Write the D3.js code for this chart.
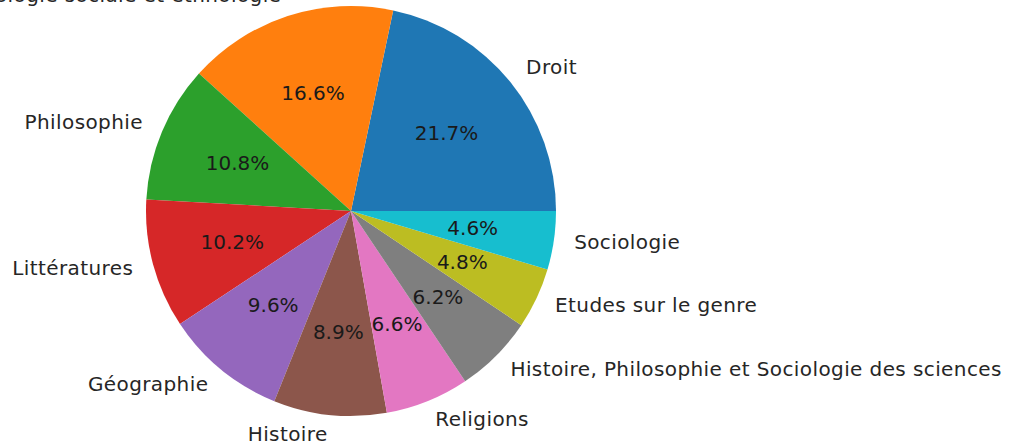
<!DOCTYPE html>
<html>
<head>
<meta charset="utf-8">
<script src="https://cdn.jsdelivr.net/npm/d3@7"></script>
<style>
  html, body { margin: 0; padding: 0; background: #fff; }
  svg { display: block; }
  text { font-family: "DejaVu Sans", sans-serif; }
</style>
</head>
<body>
<svg id="chart" width="1011" height="446"></svg>
<script>
const categories = [
  "Droit",
  "Anthropologie sociale et ethnologie",
  "Philosophie",
  "Littératures",
  "Géographie",
  "Histoire",
  "Religions",
  "Histoire, Philosophie et Sociologie des sciences",
  "Etudes sur le genre",
  "Sociologie"
];
const values = [21.7, 16.6, 10.8, 10.2, 9.6, 8.9, 6.6, 6.2, 4.8, 4.6];
const colors = ["#1f77b4", "#ff7f0e", "#2ca02c", "#d62728", "#9467bd",
                "#8c564b", "#e377c2", "#7f7f7f", "#bcbd22", "#17becf"];

const W = 1011, H = 446;
const cx = 351, cy = 211, R = 205;

const svg = d3.select("#chart");
svg.append("rect").attr("width", W).attr("height", H).attr("fill", "#fff");

const data = categories.map((c, i) => ({ name: c, value: values[i], color: colors[i] }));
const total = d3.sum(values);

// matplotlib: start at 3 o'clock, counterclockwise
const pie = d3.pie().value(d => d.value).sort(null)
  .startAngle(Math.PI / 2).endAngle(Math.PI / 2 - 2 * Math.PI);
const arcs = pie(data);

const g = svg.append("g").attr("transform", `translate(${cx},${cy})`);

const arc = d3.arc().innerRadius(0).outerRadius(R);
g.selectAll("path.slice").data(arcs).join("path")
  .attr("class", "slice")
  .attr("d", arc)
  .attr("fill", d => d.data.color);

const labelArc = d3.arc().innerRadius(R * 1.1).outerRadius(R * 1.1);
const pctArc = d3.arc().innerRadius(R * 0.6).outerRadius(R * 0.6);

g.selectAll("text.label").data(arcs).join("text")
  .attr("class", "label")
  .attr("x", d => labelArc.centroid(d)[0])
  .attr("y", d => labelArc.centroid(d)[1])
  .attr("dy", "0.27em")
  .attr("text-anchor", d => labelArc.centroid(d)[0] >= 0 ? "start" : "end")
  .attr("font-size", 20)
  .attr("letter-spacing", 0.4)
  .attr("fill", "#262626")
  .text(d => d.data.name);

g.selectAll("text.pct").data(arcs).join("text")
  .attr("class", "pct")
  .attr("x", d => pctArc.centroid(d)[0])
  .attr("y", d => pctArc.centroid(d)[1])
  .attr("dy", "0.3em")
  .attr("text-anchor", "middle")
  .attr("font-size", 20)
  .attr("fill", "#1a1a1a")
  .text(d => (d.value / total * 100).toFixed(1) + "%");
</script>
</body>
</html>
